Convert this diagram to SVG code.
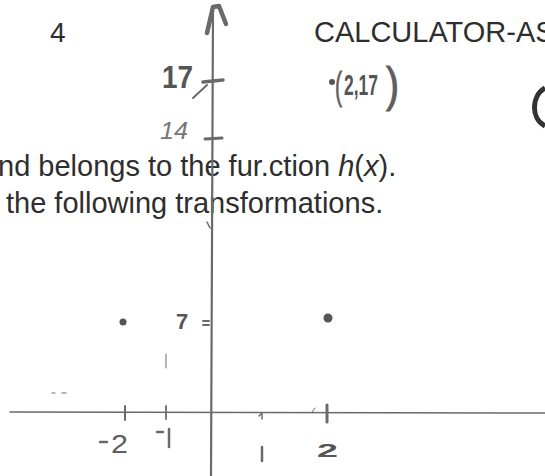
<svg xmlns="http://www.w3.org/2000/svg" width="545" height="476" viewBox="0 0 545 476">
<style>
.print{font-family:"Liberation Sans",Arial,sans-serif;fill:#2e2e2e}
.hand{font-family:"Liberation Sans",Arial,sans-serif;fill:#555;font-weight:bold}
.handn{font-family:"Liberation Sans",Arial,sans-serif;fill:#5e5e5e;font-weight:normal}
.pen{stroke:#6a6a6a;fill:none;stroke-linecap:round;stroke-linejoin:round}
</style>
<rect width="545" height="476" fill="#fff"/>
<g id="header">
<text class="print" x="50" y="42" font-size="28">4</text>
<text class="print" x="314" y="42" font-size="29">CALCULATOR-AS</text>
</g>
<g id="body-text">
<text class="print" x="-2" y="176" font-size="29">nd belongs to the fur.ction <tspan font-style="italic">h</tspan>(<tspan font-style="italic">x</tspan>).</text>
<text class="print" x="6" y="213" font-size="29">the following transformations.</text>
</g>
<g id="axes">
<path class="pen" d="M213,8 L211,476" stroke-width="2.2"/>
<path class="pen" d="M207,33 L213,7 L219,6 L226,24" stroke-width="4.5" stroke="#8a8a8a"/>
<path class="pen" d="M10,412 L545,413" stroke-width="1.6" stroke="#9a9a9a"/>
</g>
<g id="y-ticks">
<path class="pen" d="M203,82 L223,80" stroke-width="3.5" stroke="#555"/>
<path class="pen" d="M193,98 L207,85" stroke-width="2" stroke="#666"/>
<path class="pen" d="M205,139 L222,138" stroke-width="3" stroke="#555"/>
<path class="pen" d="M203,321 L209,321 M203,325 L209,325" stroke-width="1.8"/>
<path class="pen" d="M207,222 L210,228" stroke-width="1.5" stroke="#999"/>
<text class="hand" x="162" y="88" font-size="32" textLength="31" lengthAdjust="spacingAndGlyphs">17</text>
<text class="handn" x="160" y="139" font-size="24" font-style="italic" textLength="28" lengthAdjust="spacingAndGlyphs" style="fill:#777">14</text>
<text class="hand" x="176" y="329" font-size="22">7</text>
</g>
<g id="x-ticks">
<path class="pen" d="M125,406 L125,420" stroke-width="2" stroke="#555"/>
<path class="pen" d="M166,406 L166,419" stroke-width="1.8"/>
<path class="pen" d="M259,416 L262,413 L262,419" stroke-width="1.5"/>
<path class="pen" d="M327,405 L327,422" stroke-width="3" stroke="#555"/>
<path class="pen" d="M312,412 L315,408" stroke-width="1" stroke="#bbb"/>
<path class="pen" d="M100,442 L107,442" stroke-width="2.5"/>
<text class="handn" x="111" y="453" font-size="25" textLength="17" lengthAdjust="spacingAndGlyphs">2</text>
<path class="pen" d="M157,432 L163,432" stroke-width="2.5"/>
<path class="pen" d="M169,429 L169,447" stroke-width="2.5"/>
<path class="pen" d="M262,447 L262,461" stroke-width="2.5"/>
<text class="hand" x="317" y="457" font-size="18" textLength="21" lengthAdjust="spacingAndGlyphs">2</text>
</g>
<g id="points">
<circle cx="123" cy="322" r="3.5" fill="#555"/>
<circle cx="328" cy="318" r="4.5" fill="#555"/>
<circle cx="332" cy="82" r="3" fill="#555"/>
<text class="handn" x="335" y="99" font-size="38" textLength="7" lengthAdjust="spacingAndGlyphs" style="stroke:#5e5e5e;stroke-width:0.8">(</text>
<text class="hand" x="344" y="95" font-size="30" textLength="34" lengthAdjust="spacingAndGlyphs">2,17</text>
<text class="handn" x="386" y="101" font-size="48" textLength="13" lengthAdjust="spacingAndGlyphs" style="stroke:#5e5e5e;stroke-width:1">)</text>
</g>
<g id="stray-marks">
<path class="pen" d="M52,393 L55,393 M62,393 L66,393" stroke-width="1.2" stroke="#888"/>
<path class="pen" d="M166,354 L166,368" stroke-width="1" stroke="#aaa"/>
<path d="M545,88 C532,95 530,118 545,126" fill="none" stroke="#333" stroke-width="5"/>
</g>
</svg>
